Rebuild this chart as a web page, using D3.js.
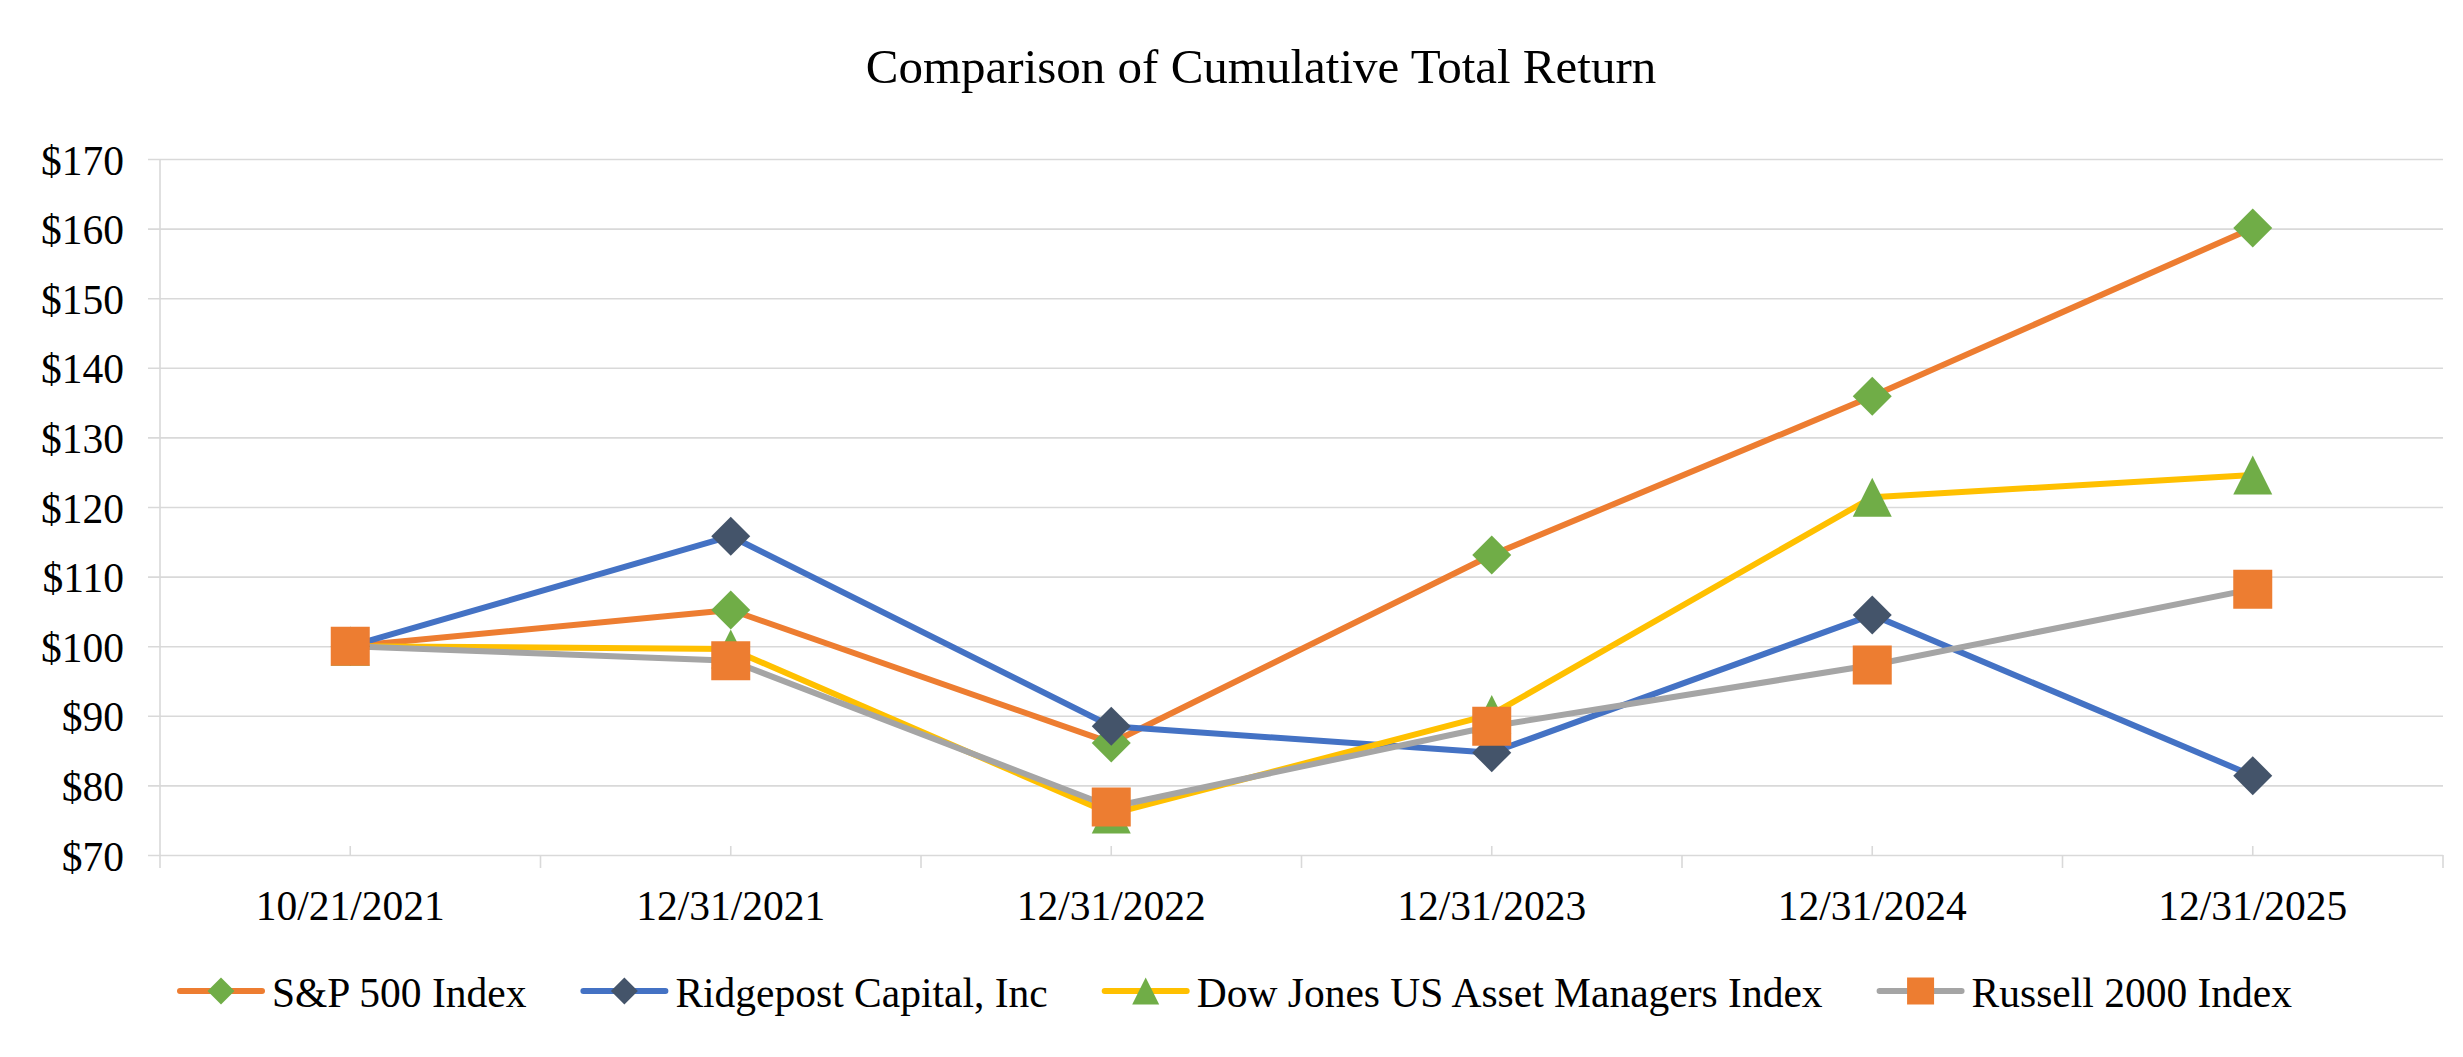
<!DOCTYPE html>
<html>
<head>
<meta charset="utf-8">
<script src="https://cdn.jsdelivr.net/npm/d3@7/dist/d3.min.js"></script>
<style>
  html, body { margin: 0; padding: 0; background: #ffffff; }
  svg { display: block; }
  text { font-family: "Liberation Serif", "Times New Roman", serif; fill: #000; }
</style>
</head>
<body>
<svg id="chart" width="2463" height="1057"></svg>
<script>
// ---- Data ----
const categories = ["10/21/2021", "12/31/2021", "12/31/2022", "12/31/2023", "12/31/2024", "12/31/2025"];
const seriesNames = ["S&P 500 Index", "Ridgepost Capital, Inc", "Dow Jones US Asset Managers Index", "Russell 2000 Index"];
const spValues = [100, 105.2, 86.1, 113.1, 135.9, 160.1];
const ridgepostValues = [100, 115.8, 88.5, 84.7, 104.5, 81.4];
const dowJonesValues = [100, 99.6, 75.9, 90.2, 121.4, 124.6];
const russellValues = [100, 97.9, 76.9, 88.5, 97.3, 108.2];
const yTicks = [70, 80, 90, 100, 110, 120, 130, 140, 150, 160, 170];
const titleText = "Comparison of Cumulative Total Return";

// ---- Styles ----
const styles = [
  { line: "#ED7D31", marker: "#70AD47", shape: "diamond" },
  { line: "#4472C4", marker: "#44546A", shape: "diamond" },
  { line: "#FFC000", marker: "#70AD47", shape: "triangle" },
  { line: "#A5A5A5", marker: "#ED7D31", shape: "square" }
];
const allValues = [spValues, ridgepostValues, dowJonesValues, russellValues];
const series = seriesNames.map((name, i) => ({ name, values: allValues[i], style: styles[i] }));

const svg = d3.select("#chart");
svg.append("rect").attr("width", 2463).attr("height", 1057).attr("fill", "#fff");

const plot = { left: 160, right: 2443, top: 159, bottom: 855 };
const grid = "#D9D9D9";
const fontSize = 41.5;

const x = d3.scaleBand().domain(categories).range([plot.left, plot.right]).padding(0);
const y = d3.scaleLinear().domain([70, 170]).range([plot.bottom, plot.top]);
const cx = c => x(c) + x.bandwidth() / 2;

// Title
svg.append("text")
  .attr("x", 1261).attr("y", 83)
  .attr("text-anchor", "middle")
  .style("font-size", "49px")
  .text(titleText);

// Y gridlines + axis (via d3.axisLeft)
const yAxis = d3.axisLeft(y).tickValues(yTicks)
  .tickSize(plot.right - plot.left + 12)
  .tickFormat(d => "$" + d);
const yG = svg.append("g")
  .attr("transform", `translate(${plot.right},0)`)
  .call(yAxis);
yG.select(".domain").remove();
yG.selectAll(".tick line").attr("stroke", grid).attr("stroke-width", 1.6);
yG.selectAll(".tick text")
  .attr("x", -(plot.right - plot.left) - 36)
  .attr("dy", null)
  .attr("dominant-baseline", "auto")
  .attr("transform", "translate(0,15)")
  .style("font-size", fontSize + "px")
  .style("font-family", '"Liberation Serif", "Times New Roman", serif')
  .attr("fill", "#000");

// Y axis vertical line
svg.append("line")
  .attr("x1", plot.left).attr("x2", plot.left)
  .attr("y1", y(170)).attr("y2", plot.bottom + 13)
  .attr("stroke", grid).attr("stroke-width", 1.6);

// X axis: boundary ticks (outside) and center ticks (inside)
const boundaries = categories.map(c => x(c)).concat([plot.right]);
svg.append("g").selectAll("line").data(boundaries.slice(1)).join("line")
  .attr("x1", d => d).attr("x2", d => d)
  .attr("y1", plot.bottom).attr("y2", plot.bottom + 13)
  .attr("stroke", grid).attr("stroke-width", 1.6);
svg.append("g").selectAll("line").data(categories).join("line")
  .attr("x1", d => cx(d)).attr("x2", d => cx(d))
  .attr("y1", plot.bottom - 9).attr("y2", plot.bottom)
  .attr("stroke", grid).attr("stroke-width", 1.6);

// X labels via axisBottom
const xAxis = d3.axisBottom(x).tickSize(0).tickPadding(0);
const xG = svg.append("g").attr("transform", `translate(0,${plot.bottom})`).call(xAxis);
xG.select(".domain").remove();
xG.selectAll(".tick text")
  .attr("y", 65).attr("dy", null)
  .style("font-size", fontSize + "px")
  .style("font-family", '"Liberation Serif", "Times New Roman", serif')
  .attr("fill", "#000");

// Marker path generator
function markerPath(shape, s) {
  const h = s / 2;
  if (shape === "diamond") return `M0,${-h}L${h},0L0,${h}L${-h},0Z`;
  if (shape === "triangle") return `M0,${-h}L${h},${h}L${-h},${h}Z`;
  return `M${-h},${-h}H${h}V${h}H${-h}Z`;
}

const lineGen = d3.line().x((d, i) => cx(categories[i])).y(d => y(d));

// Lines
series.forEach(s => {
  svg.append("path")
    .datum(s.values)
    .attr("d", lineGen)
    .attr("fill", "none")
    .attr("stroke", s.style.line)
    .attr("stroke-width", 6)
    .attr("stroke-linejoin", "round")
    .attr("stroke-linecap", "round");
});

// Markers
series.forEach(s => {
  svg.append("g").selectAll("path").data(s.values).join("path")
    .attr("transform", (d, i) => `translate(${cx(categories[i])},${y(d)})`)
    .attr("d", markerPath(s.style.shape, 39))
    .attr("fill", s.style.marker);
});

// Legend
const legendY = 991;
let lx = 180;
const legend = svg.append("g");
series.forEach(s => {
  const g = legend.append("g").attr("transform", `translate(${lx},${legendY})`);
  g.append("line").attr("x1", 0).attr("x2", 82).attr("y1", 0).attr("y2", 0)
    .attr("stroke", s.style.line).attr("stroke-width", 6).attr("stroke-linecap", "round");
  g.append("path").attr("transform", "translate(41,0)")
    .attr("d", markerPath(s.style.shape, 27)).attr("fill", s.style.marker);
  const t = g.append("text").attr("x", 92).attr("y", 15.5)
    .style("font-size", fontSize + "px").text(s.name);
  const w = t.node().getComputedTextLength();
  lx += 92 + w + 57;
});
</script>
</body>
</html>
